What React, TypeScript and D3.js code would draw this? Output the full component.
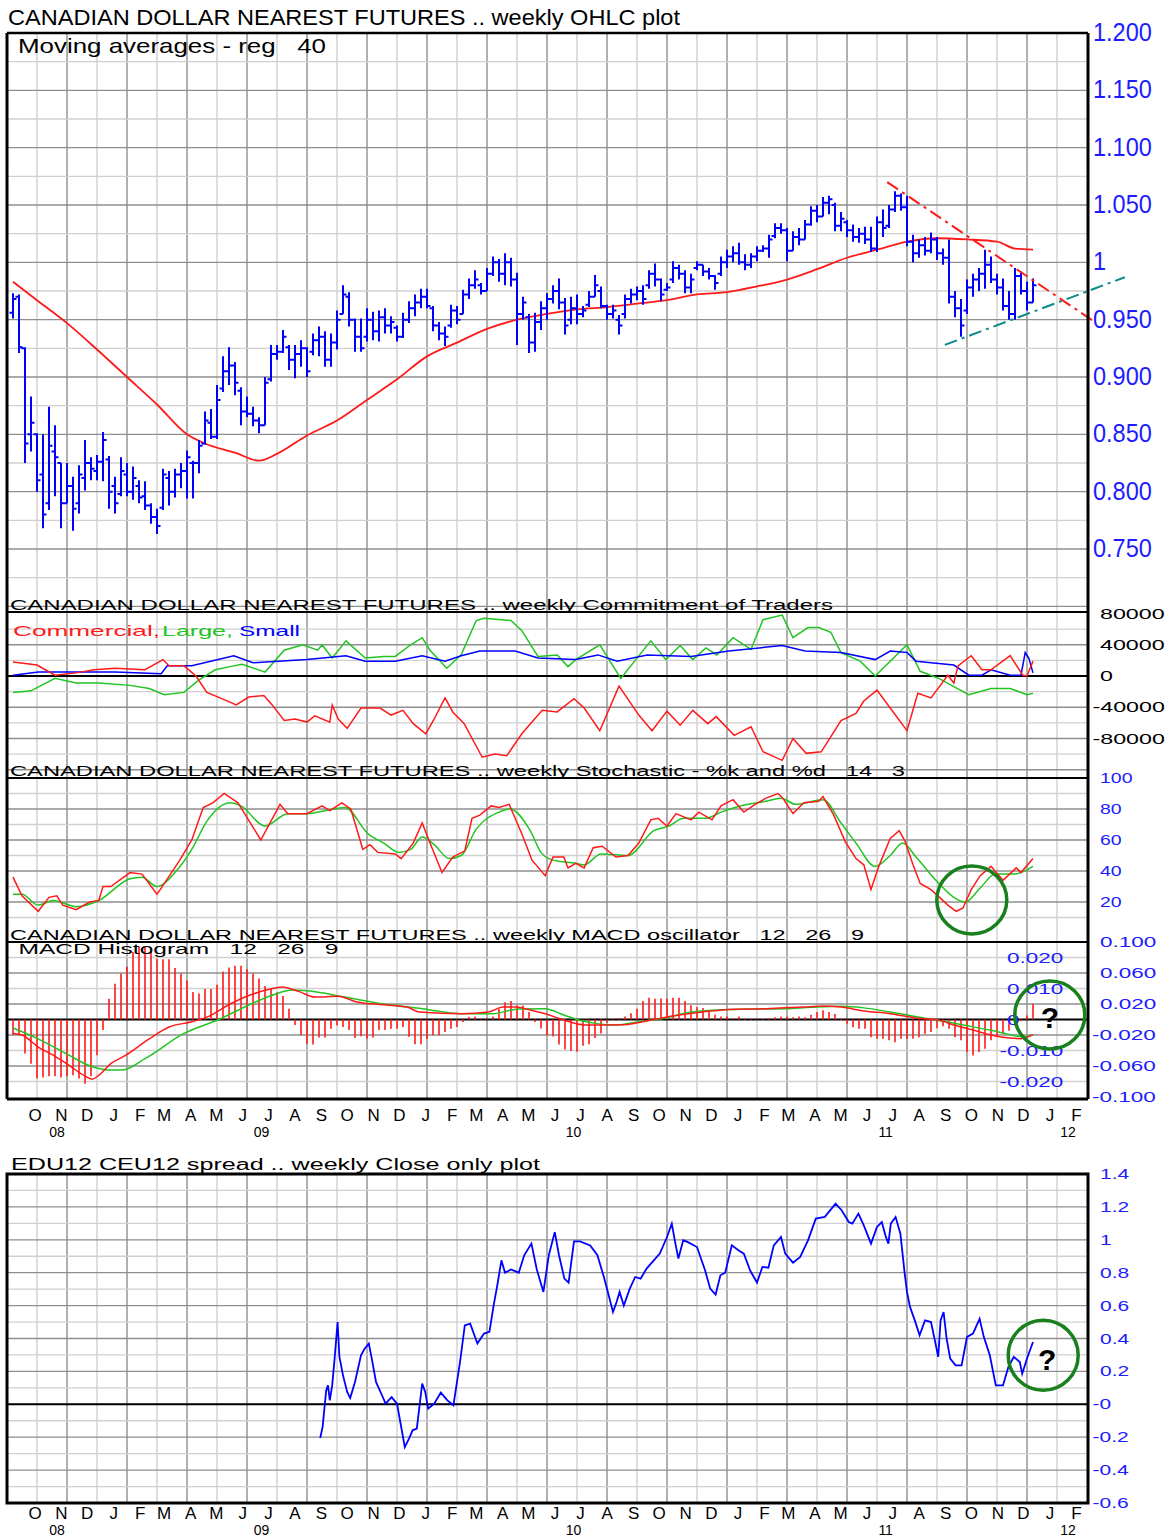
import React from "react";
import * as d3 from "d3";

const FONT = "'Liberation Sans', Arial, Helvetica, sans-serif";
const BLUE = "#0000ff";
const RED = "#ff1a1a";
const GREEN = "#22c422";
const TEAL = "#0a8a8a";
const LABEL_BLUE = "#1c1cff";
const CIRCLE_GREEN = "#18801c";
const GRID_DARK = "#8e8e8e";
const GRID_LIGHT = "#d0d0d0";

// ---------------- DATA (weekly, week index 1..171) ----------------
const highs = [
  .973,.972,.926,.883,.851,.850,.874,.858,.825,.825,
  .813,.823,.845,.830,.832,.852,.831,.813,.830,.825,
  .822,.810,.809,.790,.785,.820,.818,.820,.825,.836,
  .827,.845,.870,.872,.893,.918,.926,.913,.891,.883,
  .874,.865,.900,.928,.928,.941,.928,.928,.932,.926,
  .938,.944,.940,.938,.958,.980,.974,.951,.951,.960,
  .957,.958,.960,.953,.945,.956,.966,.972,.977,.977,
  .962,.948,.944,.963,.962,.976,.986,.993,.982,.995,
  1.005,1.003,1.008,1.004,.991,.970,.955,.956,.966,.973,
  .980,.986,.969,.970,.972,.962,.975,.989,.979,.963,
  .963,.954,.972,.977,.979,.980,.993,.999,.986,.982,
  1.001,.998,.993,.990,1.001,.998,.995,.989,1.005,1.011,
  1.014,1.017,1.007,1.008,1.014,1.015,1.024,1.034,1.034,1.030,
  1.027,1.030,1.037,1.049,1.050,1.057,1.058,1.052,1.044,1.037,
  1.033,1.030,1.031,1.031,1.040,1.046,1.050,1.062,1.060,1.058,
  1.024,1.020,1.022,1.026,1.022,1.012,1.020,.975,.968,.985,
  .990,.995,1.011,1.005,.990,.986,.975,.995,.992,.983,.986
];
const lows = [
  .951,.921,.825,.835,.800,.768,.784,.796,.768,.790,
  .766,.781,.801,.810,.810,.809,.785,.781,.796,.796,
  .793,.790,.784,.772,.763,.784,.788,.795,.803,.794,
  .794,.816,.841,.846,.846,.887,.893,.884,.858,.865,
  .857,.851,.858,.896,.915,.921,.906,.899,.909,.900,
  .919,.918,.909,.909,.924,.955,.944,.922,.922,.931,
  .932,.931,.938,.938,.931,.934,.947,.953,.960,.960,
  .940,.932,.927,.943,.946,.955,.968,.977,.972,.975,
  .988,.983,.980,.979,.928,.950,.921,.922,.941,.950,
  .964,.959,.937,.946,.946,.952,.961,.970,.960,.950,
  .951,.937,.951,.964,.967,.963,.977,.979,.966,.975,
  .982,.985,.973,.973,.993,.988,.985,.976,.988,.995,
  1.000,.998,.993,.995,1.001,1.009,1.004,1.021,1.025,1.001,
  1.010,1.015,1.020,1.032,1.035,1.040,1.042,1.027,1.027,1.022,
  1.018,1.017,1.016,1.009,1.009,1.022,1.030,1.044,1.045,1.014,
  1.000,1.004,1.006,1.008,1.002,.998,.964,.952,.935,.955,
  .970,.975,.977,.982,.972,.958,.950,.950,.972,.958,.965
];
const opens = [
  .956,.970,.925,.850,.850,.815,.790,.835,.825,.790,
  .805,.790,.812,.825,.818,.826,.828,.805,.798,.815,
  .800,.805,.796,.788,.778,.786,.812,.800,.815,.818,
  .825,.825,.842,.860,.848,.890,.905,.910,.888,.870,
  .868,.862,.858,.898,.920,.922,.926,.915,.920,.925,
  .922,.932,.935,.915,.930,.955,.970,.950,.935,.935,
  .950,.940,.952,.945,.943,.935,.950,.960,.965,.970,
  .960,.945,.938,.945,.958,.955,.972,.980,.980,.975,
  .990,1.000,.990,1.000,.985,.955,.952,.930,.948,.960,
  .968,.975,.965,.950,.960,.955,.963,.970,.975,.962,
  .955,.950,.955,.968,.972,.975,.980,.990,.985,.976,
  .985,.995,.990,.978,.995,.998,.992,.988,.990,1.000,
  1.005,1.008,1.000,.998,1.005,1.010,1.012,1.023,1.030,1.028,
  1.010,1.022,1.020,1.033,1.045,1.040,1.052,1.050,1.032,1.035,
  1.028,1.022,1.025,1.020,1.012,1.035,1.032,1.046,1.058,1.048,
  1.018,1.008,1.015,1.010,1.020,1.008,1.004,.970,.960,.958,
  .978,.985,.990,.998,.985,.978,.962,.955,.988,.975,.965
];
const closes = [
  .968,.926,.842,.860,.810,.780,.840,.830,.790,.805,
  .785,.815,.825,.820,.826,.845,.800,.790,.818,.800,
  .812,.795,.788,.778,.770,.815,.800,.815,.818,.830,
  .825,.840,.862,.848,.880,.905,.910,.895,.870,.868,
  .862,.858,.895,.920,.922,.935,.915,.920,.925,.905,
  .932,.935,.915,.930,.950,.972,.950,.935,.925,.950,
  .940,.952,.945,.948,.935,.950,.960,.965,.970,.962,
  .945,.938,.935,.958,.950,.972,.980,.985,.975,.990,
  1.000,.990,1.000,.985,.955,.965,.930,.948,.960,.968,
  .975,.965,.945,.960,.955,.958,.970,.980,.962,.955,
  .958,.945,.968,.972,.975,.968,.990,.985,.972,.978,
  .995,.990,.978,.985,.998,.992,.988,.982,1.000,1.005,
  1.008,1.000,.998,1.005,1.010,1.012,1.020,1.030,1.028,1.010,
  1.022,1.020,1.033,1.045,1.040,1.052,1.055,1.032,1.038,1.028,
  1.022,1.025,1.020,1.012,1.035,1.030,1.046,1.058,1.048,1.018,
  1.008,1.015,1.010,1.020,1.008,1.004,.970,.960,.945,.978,
  .985,.990,.998,.985,.978,.962,.955,.988,.975,.965,.980
];

// 40-week moving average [week, value]
const movingAverage = [
  [1,.983],[5,.967],[10,.947],[15,.924],[20,.900],[25,.876],[30,.850],[33,.842],[38,.834],[42,.827],
  [45,.833],[50,.849],[55,.862],[60,.880],[65,.898],[70,.918],[75,.930],[80,.942],[85,.950],[90,.955],
  [95,.959],[100,.961],[105,.964],[110,.967],[115,.972],[120,.974],[125,.979],[130,.985],[135,.994],
  [140,1.004],[145,1.011],[150,1.018],[155,1.021],[160,1.020],[165,1.018],[168,1.012],[171,1.011]
];

// Commitment of Traders, thousands of contracts [week, value]
const commercial = [
  [1,18],[5,14],[8,1],[11.5,4],[14.5,8],[18,10],[23,8],[26,21],[27,13],[29.5,13],[31.5,0],[33.3,-21],
  [35.8,-29],[38.2,-37],[40.3,-27],[42.8,-25],[44.2,-37],[46.2,-57],[48,-55],[50,-59],[51.3,-51],
  [53.8,-59],[54.2,-37],[55.2,-55],[56.7,-67],[59,-41],[62.2,-41],[64,-50],[66,-44],[67.7,-61],
  [69.8,-74],[71.2,-55],[73,-28],[74.3,-46],[76.2,-61],[79.2,-104],[81.3,-100],[83.3,-102],[85.8,-74],
  [89.2,-44],[91.7,-46],[94.5,-29],[96.2,-41],[98.8,-70],[102,-13],[105.3,-50],[107.5,-70],[110,-45],
  [112.2,-63],[114.3,-44],[116.8,-61],[118.2,-52],[121.2,-76],[124,-65],[126,-97],[129.2,-108],[131,-80],
  [133.2,-99],[135.7,-97],[139,-57],[141.5,-48],[142.8,-32],[145,-18],[147.2,-41],[150,-70],[151.8,-22],
  [154,-28],[156.8,1],[157.8,-9],[158.5,13],[160.7,26],[162.5,8],[164,8],[167.2,26],[169.3,1],[170,0],[171,19]
];
const large = [
  [1,-21],[4,-19],[8,-3],[11.5,-9],[15.3,-9],[20.5,-12],[23.7,-16],[26.2,-24],[29.5,-21],[32,-5],
  [34.7,8],[37.2,12],[39.2,15],[43,5],[46.2,33],[49.3,40],[51.8,33],[52.5,40],[54.2,23],[56.5,45],
  [59.7,23],[62.8,25],[64.7,25],[67.3,40],[69.2,49],[70.5,33],[73.3,10],[75.7,27],[78.2,71],[79.5,74],
  [84,71],[85.8,58],[88.5,25],[91.7,27],[93.5,12],[94.8,21],[98.8,40],[102.3,-3],[107.3,45],[109.8,21],
  [112.2,39],[114.3,21],[116.5,36],[118.3,27],[121,49],[124,34],[126,72],[129.2,78],[131,49],[133.5,62],
  [135.3,62],[137.3,56],[139,30],[142.2,19],[144.7,0],[150,40],[152.2,6],[155.3,-3],[157.2,-11],
  [160.3,-24],[164,-16],[167.2,-16],[170,-24],[171,-22]
];
const small = [
  [1,1],[5.2,5],[18,5],[25.7,3],[26.7,13],[30.8,13],[37.8,26],[41,17],[50,21],[56.5,26],[59.7,19],
  [64.7,19],[69.2,26],[73,19],[75.7,26],[78.8,32],[84.7,32],[88.5,23],[94.8,21],[98.5,27],[101.7,19],
  [106.7,27],[114,25],[120.3,32],[129.2,39],[133,32],[139,30],[144.7,21],[147.2,32],[150,30],[151.5,19],
  [157.8,14],[160.3,1],[162.5,1],[164,8],[167.2,1],[169,1],[169.7,30],[170.3,23],[171,4]
];

// Stochastic %K and %D [week, value]
const stochK = [
  [1,36],[2.5,24],[5.2,14],[7,23],[8.3,24],[9.3,18],[11.5,15],[13.8,20],[15.3,21],[16,30],[17.3,30],
  [20.5,39],[22.5,38],[25,25],[25.7,29],[28.8,47],[30.8,60],[32.7,81],[34.3,84],[36.2,90],[38.5,84],
  [42.3,60],[45.5,83],[46.8,77],[50,77],[52.5,82],[53.8,79],[55.8,84],[57.3,80],[59.3,54],[60.5,57],
  [61.8,52],[64.7,51],[65.7,48],[67.7,58],[69.2,71],[70.5,58],[72.5,39],[74.3,49],[76.3,53],[77.5,74],
  [78.8,76],[80.7,82],[82,81],[83.7,83],[85.8,64],[87.5,47],[89.7,37],[91,49],[92.8,49],[93.5,42],
  [94.8,45],[96.2,42],[97.7,55],[99.2,56],[101.5,49],[103.5,50],[105.3,58],[107.3,73],[108.5,74],
  [110,69],[111.5,77],[114,73],[115.3,78],[117.5,73],[119,82],[121,86],[122.8,78],[124.7,83],[126.5,87],
  [128.5,90],[129.3,87],[131,77],[132.8,84],[135.3,85],[136,88],[137.8,76],[139.7,59],[141.5,48],
  [142.8,44],[144,28],[145.3,43],[147.2,61],[148.7,66],[149.7,59],[151,44],[152.2,32],[154,28],
  [155.7,22],[156.8,18],[158.2,14],[159.3,16],[160.7,28],[162.2,37],[164,43],[166,34],[168.2,42],
  [169,39],[171,48]
];
const stochD = [
  [1,25],[2.5,25],[5.2,18],[7.7,21],[11.5,17],[15.3,21],[20.5,35],[22.5,36],[25,30],[28.2,40],
  [30.8,54],[33.3,72],[37.2,84],[39,82],[43,69],[46.8,77],[50,77],[53.2,79],[56.3,81],[60.2,64],
  [62.8,58],[65.3,52],[67.3,54],[69.2,62],[71.2,57],[73.7,48],[75.7,50],[78.2,67],[82,78],[83.8,80],
  [87.2,66],[89,52],[91,47],[94.8,45],[96.2,44],[99,51],[103.5,50],[107.8,66],[110.3,69],[112.8,74],
  [116.5,74],[119,78],[122.2,82],[126.5,85],[129,87],[131.5,83],[136,86],[139,71],[141.5,58],
  [144.7,43],[147.2,50],[149.3,58],[151.5,49],[155.3,32],[157.8,23],[159.7,20],[162.2,29],[164.7,38],
  [167.8,38],[171,43]
];

// MACD line and signal [week, value]
const macdLine = [
  [1,-.018],[2.5,-.020],[5.2,-.0355],[7.7,-.046],[10.3,-.059],[12.8,-.072],[14.2,-.077],[15.3,-.072],
  [17.3,-.057],[19.8,-.046],[23.7,-.025],[27,-.0097],[30.8,-.003],[33.3,.003],[37.2,.020],[40.3,.031],
  [43.7,.039],[45.8,.042],[48.7,.036],[51.3,.029],[55.2,.030],[58.3,.0226],[62.8,.019],[66.7,.016],
  [68.7,.0097],[75.7,.0075],[80.2,.0097],[82.7,.016],[84.7,.016],[87.2,.0123],[89.7,.0075],[92.8,-.0006],
  [96.2,-.007],[99,-.007],[102.8,-.0067],[107.8,0],[111,.0045],[116,.0097],[120.3,.013],[126.5,.014],
  [132.8,.016],[136,.0174],[139,.016],[142.8,.011],[147.2,.0075],[151.5,.002],[155.3,-.0008],[157.8,-.007],
  [161,-.0135],[164,-.020],[167.2,-.024],[169,-.0248],[171,-.0196]
];
const macdSignal = [
  [1,-.011],[5.2,-.025],[10.3,-.046],[14.2,-.061],[16.7,-.065],[19.2,-.065],[23,-.0505],[29.5,-.018],
  [35.3,0],[40.3,.0187],[44.8,.033],[47.5,.038],[50,.037],[56.3,.029],[62.8,.020],[69.2,.014],[75.7,.0075],
  [80.8,.0075],[85.3,.0135],[89.7,.014],[92.8,.0058],[96,-.002],[98,-.005],[101.5,-.007],[105.3,-.003],
  [109.7,.002],[114,.0097],[120.3,.013],[129.7,.014],[134,.0157],[139,.017],[142.8,.015],[147.2,.0097],
  [152.8,.002],[156.5,-.003],[160.3,-.0084],[164,-.014],[167.2,-.0196],[169.3,-.0226],[171,-.0196]
];
// MACD histogram, one value per week
const macdHist = [
  -.005,-.005,-.011,-.0143,-.019,-.0187,-.0183,-.0183,-.0187,-.0183,
  -.018,-.019,-.0207,-.0183,-.0115,-.0034,.0067,.0115,.0148,.017,
  .0218,.0234,.0234,.022,.0196,.0194,.0194,.0166,.0148,.0126,
  .0089,.0084,.0098,.0098,.0112,.0155,.0168,.0173,.0173,.0162,
  .0148,.0132,.0108,.0099,.0088,.0076,.0035,-.0018,-.005,-.0078,
  -.0081,-.0058,-.0058,-.003,-.0019,-.0024,-.0034,-.006,-.0054,-.0062,
  -.0058,-.0034,-.0034,-.003,-.003,-.0024,-.0056,-.008,-.008,-.0062,
  -.0051,-.0051,-.004,-.003,-.0024,-.0008,.0008,.001,0,.0002,
  .001,.0035,.0056,.006,.0046,.0045,.0024,-.0008,-.0029,-.005,
  -.0055,-.0081,-.0097,-.0102,-.0104,-.0085,-.008,-.006,-.0045,-.001,
  0,.0005,.001,.002,.0035,.006,.007,.0067,.0068,.0067,
  .007,.007,.006,.0046,.004,.0037,.003,.0015,.001,.001,
  .0004,.001,0,.0002,.0004,.0002,.0004,.0007,.001,.001,
  .0007,.001,.0007,.0015,.0024,.003,.0024,.0018,0,-.0014,
  -.0025,-.003,-.003,-.0057,-.0062,-.0062,-.0067,-.0073,-.0062,-.0062,
  -.0062,-.0057,-.0046,-.004,-.0028,-.0022,-.003,-.0057,-.0067,-.0105,
  -.0116,-.0105,-.0094,-.0067,-.0057,-.0047,-.0036,-.0019,-.0006,.0013,.005
];

// EDU12 - CEU12 spread, weekly close [week, value]
const spread = [
  [52.2,-.205],[52.6,-.138],[52.9,-.026],[53.2,.085],[53.5,.115],[53.8,.024],[54.2,.115],[54.6,.278],
  [55.1,.50],[55.4,.29],[56,.176],[56.7,.075],[57.2,.038],[58,.136],[59,.298],[59.6,.338],[60.3,.369],
  [60.8,.278],[61.5,.136],[62.5,.055],[63.1,.004],[64.1,.044],[65,.004],[65.7,-.138],[66.3,-.26],
  [67,-.209],[67.6,-.158],[68.3,-.148],[68.7,-.026],[69.2,.126],[69.7,.075],[70.2,-.026],[71.2,.004],
  [72.3,.071],[73.4,.024],[74.4,-.006],[75,.136],[75.5,.257],[76.3,.48],[77.2,.49],[78.4,.369],[79.5,.43],
  [80.4,.44],[81.1,.60],[81.7,.72],[82.4,.875],[83,.80],[84,.82],[85.3,.80],[86.2,.906],[87.4,.977],
  [88.3,.82],[89.4,.683],[90.3,.906],[91.3,1.047],[92,.906],[92.9,.764],[93.6,.74],[94.5,.99],[95.5,.99],
  [97.2,.966],[98.4,.906],[99.4,.784],[100,.703],[101,.561],[101.6,.622],[102.1,.683],[102.8,.60],
  [103.8,.703],[104.7,.774],[105.6,.764],[106.6,.825],[107.8,.875],[108.8,.916],[110,1.017],[110.8,1.098],
  [111.4,.977],[111.9,.886],[112.7,.997],[113.4,.987],[115,.956],[116.3,.82],[117.2,.703],[118.1,.667],
  [118.9,.784],[119.7,.80],[120.8,.966],[121.9,.936],[122.8,.916],[123.9,.81],[125,.74],[125.9,.835],
  [126.9,.83],[127.8,.966],[129,1.017],[129.7,.916],[131,.861],[132.2,.896],[133.5,.997],[134.8,1.129],
  [136.3,1.139],[138.1,1.22],[139.1,1.18],[140.3,1.108],[140.9,1.098],[141.9,1.159],[142.8,1.088],
  [144,.977],[145,1.078],[145.8,1.108],[146.4,1.027],[146.9,.977],[147.3,1.098],[148.1,1.139],
  [148.9,1.037],[149.6,.80],[150,.683],[150.5,.592],[151.3,.51],[152.1,.42],[153,.51],[154,.50],
  [154.7,.379],[155.2,.288],[155.6,.51],[156.1,.561],[156.6,.40],[157.2,.278],[158.1,.237],[159.1,.237],
  [160,.41],[161,.43],[162.1,.52],[162.8,.41],[163.8,.298],[164.8,.115],[166,.115],[166.9,.227],
  [167.8,.288],[168.8,.257],[169.2,.186],[170,.278],[171,.379]
];

// trend lines [week, price]
const resistanceLine = [[146.7, 1.070], [181.3, 0.948]];
const supportLine = [[156.3, 0.928], [186.3, 0.987]];

// annotation circles (centre in data units)
const stochCircle = [160.8, 21.3];
const macdCircle = [173.8, 0.0058];
const spreadCircle = [172.7, 0.298];

// axis ticks / labels
const priceTicks = [1.2, 1.15, 1.1, 1.05, 1, 0.95, 0.9, 0.85, 0.8, 0.75];
const priceTickLabels = ["1.200", "1.150", "1.100", "1.050", "1", "0.950", "0.900", "0.850", "0.800", "0.750"];
const cotTicks = [80, 40, 0, -40, -80];
const cotTickLabels = ["80000", "40000", "0", "-40000", "-80000"];
const stochTicks = [100, 80, 60, 40, 20];
const stochTickLabels = ["100", "80", "60", "40", "20"];
const macdTicks = [0.1, 0.06, 0.02, -0.02, -0.06, -0.1];
const macdTickLabels = ["0.100", "0.060", "0.020", "-0.020", "-0.060", "-0.100"];
const histTicks = [0.02, 0.01, 0, -0.01, -0.02];
const histTickLabels = ["0.020", "0.010", "0", "-0.010", "-0.020"];
const spreadTicks = [1.4, 1.2, 1, 0.8, 0.6, 0.4, 0.2, 0, -0.2, -0.4, -0.6];
const spreadTickLabels = ["1.4", "1.2", "1", "0.8", "0.6", "0.4", "0.2", "-0", "-0.2", "-0.4", "-0.6"];
const monthLetters = "ONDJFMAMJJASONDJFMAMJJASONDJFMAMJJASONDJF".split("");
const yearLabels = ["08", "09", "10", "11", "12"];
const yearNumbers = [2008, 2009, 2010, 2011, 2012];

// ---------------- CHART ----------------
type Pt = number[];

function Lbl(props: any) {
  const { x, y, sx = 1, size = 15, fill = "#000", children, anchor = "start", weight = "normal" } = props;
  return (
    <text transform={`translate(${x},${y}) scale(${sx},1)`} fontSize={size} fill={fill}
      textAnchor={anchor} fontFamily={FONT} fontWeight={weight}>{children}</text>
  );
}
function Title(props: any) {
  const { x, y, len, size = 15, fill = "#000", children } = props;
  return (
    <text x={x} y={y} fontSize={size} fill={fill} fontFamily={FONT} textLength={len}
      lengthAdjust="spacingAndGlyphs" xmlSpace="preserve" style={{ whiteSpace: "pre" }}>{children}</text>
  );
}

export default function App() {
  const xW = d3.scaleLinear().domain([0, 180]).range([7, 1087]);
  const xT = d3.scaleTime().domain([new Date(2008, 9, 1), new Date(2012, 0, 1)]).range([36, 1051]);
  const yP = d3.scaleLinear().domain([0.75, 1.2]).range([549, 33]);
  const yC = d3.scaleLinear().domain([-80, 80]).range([738.5, 613.5]);
  const yS = d3.scaleLinear().domain([0, 100]).range([933, 778]);
  const yM = d3.scaleLinear().domain([-0.1, 0.1]).range([1097, 942]);
  const yH = d3.scaleLinear().domain([-0.02, 0.02]).range([1081.5, 957.5]);
  const yB = d3.scaleLinear().domain([-0.6, 1.4]).range([1503, 1174]);

  const L = 7, R = 1088;
  const mainTop = 33, mainBottom = 1099;
  const botTop = 1174, botBottom = 1503;

  const mk = (ys: any) => d3.line<Pt>().x((d) => xW(d[0])).y((d) => ys(d[1]));
  const mkSmooth = (ys: any) => d3.line<Pt>().x((d) => xW(d[0])).y((d) => ys(d[1])).curve(d3.curveMonotoneX);

  // OHLC bars
  const ohlc = d3.path();
  highs.forEach((h, i) => {
    const x = xW(i + 1);
    const lo = lows[i];
    const o = Math.min(h, Math.max(lo, opens[i]));
    const c = Math.min(h, Math.max(lo, closes[i]));
    ohlc.moveTo(x, yP(h)); ohlc.lineTo(x, yP(lo));
    ohlc.moveTo(x - 3.5, yP(o)); ohlc.lineTo(x, yP(o));
    ohlc.moveTo(x, yP(c)); ohlc.lineTo(x + 3.5, yP(c));
  });

  const hist = d3.path();
  macdHist.forEach((v, i) => {
    const x = xW(i + 1);
    hist.moveTo(x, yH(0)); hist.lineTo(x, yH(v) === yH(0) ? yH(0) - 1 : yH(v));
  });

  const weeks = d3.range(5, 180, 5);

  const hLines = (vals: number[], ys: any, darkFn: (v: number) => boolean) =>
    vals.map((v, i) => (
      <line key={i} x1={L} x2={R} y1={ys(v)} y2={ys(v)} stroke={darkFn(v) ? GRID_DARK : GRID_LIGHT} strokeWidth={1.3} />
    ));

  const priceGrid = d3.range(0, 20).map((i) => 0.7 + i * 0.025);
  const cotGrid = d3.range(-120, 80, 20);
  const stochGrid = d3.range(10, 100, 10);
  const macdGrid = [-0.08, -0.06, -0.04, -0.02, 0.02, 0.04, 0.06, 0.08];
  const spreadGrid = d3.range(-5, 14).map((i) => i / 10);

  const months = monthLetters.map((m, i) => ({ m, x: xT(d3.timeMonth.offset(new Date(2008, 9, 1), i)) - 1 }));
  const years = yearNumbers.map((yr, i) => ({
    t: yearLabels[i],
    x: Math.max(57, Math.min(1068, xT(new Date(yr, 6, 1)) - 8)),
  }));

  const axis = (yMonth: number, yYear: number, key: string) => (
    <g key={key}>
      {months.map((d, i) => (
        <text key={i} x={d.x} y={yMonth} fontSize={17} textAnchor="middle" fontFamily={FONT}>{d.m}</text>
      ))}
      {years.map((d, i) => (
        <text key={i} x={d.x} y={yYear} fontSize={14} textAnchor="middle" fontFamily={FONT}>{d.t}</text>
      ))}
    </g>
  );

  const vGrid = (y1: number, y2: number) =>
    weeks.map((k) => (
      <line key={k} x1={xW(k)} x2={xW(k)} y1={y1} y2={y2} stroke={k % 10 === 0 ? GRID_DARK : GRID_LIGHT} strokeWidth={1.4} />
    ));

  const trend = (pts: number[][], color: string) => (
    <line x1={xW(pts[0][0])} y1={yP(pts[0][1])} x2={xW(pts[1][0])} y2={yP(pts[1][1])}
      stroke={color} strokeWidth={2} strokeDasharray="13 5 3 5" />
  );

  return (
    <div>
      <style>{"body{margin:0;background:#fff}"}</style>
      <svg width={1168} height={1537} style={{ display: "block", background: "#fff" }}>
        <rect x={0} y={0} width={1168} height={1537} fill="#fff" />

        {/* ---------- grids ---------- */}
        {vGrid(mainTop, mainBottom)}
        {hLines(priceGrid.filter((v) => yP(v) > mainTop + 2 && yP(v) < 610), yP, (v) => Math.abs(Math.round(v * 20) - v * 20) < 1e-6)}
        {hLines(cotGrid, yC, (v) => v % 40 === 0)}
        {hLines(stochGrid, yS, (v) => v % 20 === 0)}
        {hLines(macdGrid, yM, (v) => Math.abs(Math.round(Math.abs(v) * 50)) % 2 === 1)}
        {vGrid(botTop, botBottom)}
        {hLines(spreadGrid, yB, (v) => Math.round(v * 10) % 2 === 0)}

        {/* zero lines */}
        <line x1={L} x2={R} y1={yC(0)} y2={yC(0)} stroke="#000" strokeWidth={2} />
        <line x1={L} x2={R} y1={yM(0)} y2={yM(0)} stroke="#000" strokeWidth={2} />
        <line x1={L} x2={R} y1={yB(0)} y2={yB(0)} stroke="#000" strokeWidth={2} />

        {/* ---------- price panel ---------- */}
        <path d={mkSmooth(yP)(movingAverage as Pt[]) || ""} fill="none" stroke={RED} strokeWidth={1.8} />
        <path d={ohlc.toString()} fill="none" stroke={BLUE} strokeWidth={2} />
        {trend(resistanceLine, RED)}
        {trend(supportLine, TEAL)}

        {/* ---------- COT ---------- */}
        <path d={mk(yC)(large as Pt[]) || ""} fill="none" stroke={GREEN} strokeWidth={1.5} />
        <path d={mk(yC)(small as Pt[]) || ""} fill="none" stroke={BLUE} strokeWidth={1.5} />
        <path d={mk(yC)(commercial as Pt[]) || ""} fill="none" stroke={RED} strokeWidth={1.5} />

        {/* ---------- Stochastic ---------- */}
        <path d={mkSmooth(yS)(stochD as Pt[]) || ""} fill="none" stroke={GREEN} strokeWidth={1.5} />
        <path d={mk(yS)(stochK as Pt[]) || ""} fill="none" stroke={RED} strokeWidth={1.5} />

        {/* ---------- MACD ---------- */}
        <path d={hist.toString()} fill="none" stroke={RED} strokeWidth={1.6} />
        <path d={mkSmooth(yM)(macdSignal as Pt[]) || ""} fill="none" stroke={GREEN} strokeWidth={1.5} />
        <path d={mkSmooth(yM)(macdLine as Pt[]) || ""} fill="none" stroke={RED} strokeWidth={1.5} />

        {/* ---------- spread ---------- */}
        <path d={mk(yB)(spread as Pt[]) || ""} fill="none" stroke={BLUE} strokeWidth={1.8} />

        {/* ---------- frames ---------- */}
        <line x1={L} x2={R} y1={mainTop} y2={mainTop} stroke="#000" strokeWidth={2.5} />
        <line x1={L} x2={R} y1={612} y2={612} stroke="#000" strokeWidth={2} />
        <line x1={L} x2={R} y1={778} y2={778} stroke="#000" strokeWidth={2} />
        <line x1={L} x2={R} y1={942} y2={942} stroke="#000" strokeWidth={2} />
        <line x1={L} x2={R} y1={mainBottom} y2={mainBottom} stroke="#000" strokeWidth={3} />
        <line x1={L} x2={L} y1={mainTop} y2={mainBottom} stroke="#000" strokeWidth={3} />
        <line x1={R} x2={R} y1={mainTop} y2={mainBottom} stroke="#000" strokeWidth={3} />
        <rect x={L} y={botTop} width={R - L} height={botBottom - botTop} fill="none" stroke="#000" strokeWidth={3} />

        {/* ---------- titles ---------- */}
        <Title x={8} y={25} len={672} size={22}>CANADIAN DOLLAR NEAREST FUTURES .. weekly OHLC plot</Title>
        <Title x={18} y={53} len={308} size={21}>Moving averages - reg   40</Title>
        <Title x={10} y={610} len={823}>CANADIAN DOLLAR NEAREST FUTURES .. weekly Commitment of Traders</Title>
        <Title x={13} y={636} len={147} fill={RED}>Commercial,</Title>
        <Title x={162} y={636} len={71} fill={GREEN}>Large,</Title>
        <Title x={239} y={636} len={61} fill={BLUE}>Small</Title>
        <Title x={10} y={776} len={895}>CANADIAN DOLLAR NEAREST FUTURES .. weekly Stochastic - %k and %d   14   3</Title>
        <Title x={10} y={940} len={854}>CANADIAN DOLLAR NEAREST FUTURES .. weekly MACD oscillator   12   26   9</Title>
        <Title x={18.5} y={954} len={320}>MACD Histogram   12   26   9</Title>
        <Title x={11} y={1170} len={529} size={16}>EDU12 CEU12 spread .. weekly Close only plot</Title>

        {/* ---------- right axes ---------- */}
        {priceTicks.map((v, i) => (
          <Lbl key={i} x={1093} y={yP(v) + 8} size={25} sx={0.94} fill={LABEL_BLUE}>{priceTickLabels[i]}</Lbl>
        ))}
        {cotTicks.map((v, i) => (
          <Lbl key={i} x={v < 0 ? 1092.5 : 1100} y={yC(v) + 5} size={15} sx={1.55}>{cotTickLabels[i]}</Lbl>
        ))}
        {stochTicks.map((v, i) => (
          <Lbl key={i} x={1100} y={yS(v) + 5} size={15} sx={1.3} fill={LABEL_BLUE}>{stochTickLabels[i]}</Lbl>
        ))}
        {macdTicks.map((v, i) => (
          <Lbl key={i} x={v < 0 ? 1092 : 1100} y={yM(v) + 5} size={15} sx={1.5} fill={LABEL_BLUE}>{macdTickLabels[i]}</Lbl>
        ))}
        {histTicks.map((v, i) => (
          <Lbl key={i} x={v < 0 ? 999.5 : 1007} y={yH(v) + 5} size={15} sx={1.5} fill={LABEL_BLUE}>{histTickLabels[i]}</Lbl>
        ))}
        {spreadTicks.map((v, i) => (
          <Lbl key={i} x={spreadTickLabels[i][0] === "-" ? 1092.5 : 1100} y={yB(v) + 5} size={15} sx={1.4} fill={LABEL_BLUE}>{spreadTickLabels[i]}</Lbl>
        ))}

        {/* ---------- x axes ---------- */}
        {axis(1121, 1137, "a1")}
        {axis(1519, 1535, "a2")}

        {/* ---------- annotations ---------- */}
        <ellipse cx={xW(stochCircle[0])} cy={yS(stochCircle[1])} rx={35} ry={34} fill="none" stroke={CIRCLE_GREEN} strokeWidth={3.5} />
        <ellipse cx={xW(macdCircle[0])} cy={yM(macdCircle[1])} rx={35} ry={34} fill="none" stroke={CIRCLE_GREEN} strokeWidth={3.5} />
        <ellipse cx={xW(spreadCircle[0])} cy={yB(spreadCircle[1])} rx={35} ry={35} fill="none" stroke={CIRCLE_GREEN} strokeWidth={3.5} />
        <text x={xW(macdCircle[0])} y={yM(macdCircle[1]) + 13} fontSize={30} fontWeight="bold" textAnchor="middle" fontFamily={FONT}>?</text>
        <text x={xW(spreadCircle[0]) + 4} y={yB(spreadCircle[1]) + 15} fontSize={30} fontWeight="bold" textAnchor="middle" fontFamily={FONT}>?</text>
      </svg>
    </div>
  );
}
